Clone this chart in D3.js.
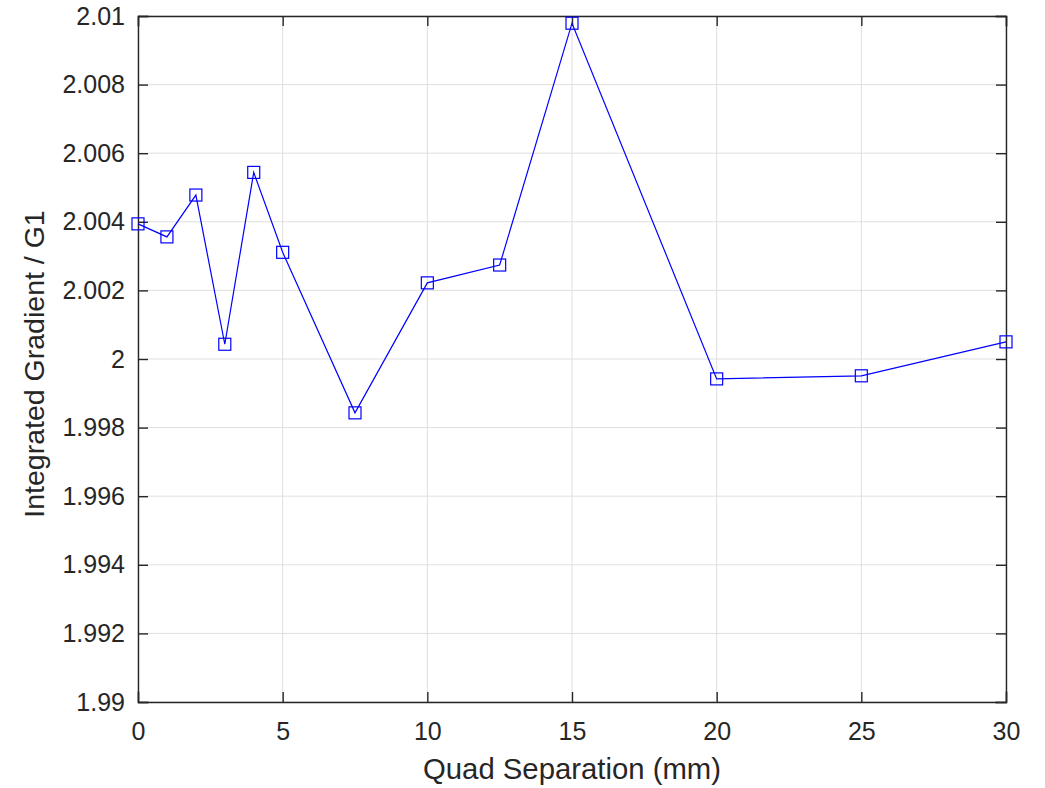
<!DOCTYPE html>
<html><head><meta charset="utf-8">
<script src="https://cdn.jsdelivr.net/npm/d3@7"></script>
<style>body{margin:0;background:#fff}svg{display:block}</style>
</head><body>
<script>
const separation = [0, 1, 2, 3, 4, 5, 7.5, 10, 12.5, 15, 20, 25, 30];
const gradient = [2.00394, 2.00356, 2.00478, 2.00043, 2.00544, 2.00311, 1.99843, 2.00222, 2.00274, 2.00979, 1.99942, 1.99951, 2.00050];
const xTicks = [0, 5, 10, 15, 20, 25, 30];
const yTicks = [1.99, 1.992, 1.994, 1.996, 1.998, 2, 2.002, 2.004, 2.006, 2.008, 2.01];
const yTickLabels = ["1.99","1.992","1.994","1.996","1.998","2","2.002","2.004","2.006","2.008","2.01"];

const W = 1045, H = 788;
const m = {left:138, right:W-1006, top:16, bottom:H-702};
const svg = d3.select("body").append("svg").attr("width",W).attr("height",H);
const x = d3.scaleLinear().domain([0,30]).range([m.left, W-m.right]);
const y = d3.scaleLinear().domain([1.99,2.01]).range([H-m.bottom, m.top]);
const font = "Liberation Sans, Arial, sans-serif";
const axisColor = "#262626";

// grid
const g = svg.append("g");
g.selectAll(".gx").data(xTicks).enter().append("line")
  .attr("x1",d=>x(d)).attr("x2",d=>x(d)).attr("y1",y(1.99)).attr("y2",y(2.01))
  .attr("stroke","#dfdfdf").attr("stroke-width",1);
g.selectAll(".gy").data(yTicks).enter().append("line")
  .attr("y1",d=>y(d)).attr("y2",d=>y(d)).attr("x1",x(0)).attr("x2",x(30))
  .attr("stroke","#dfdfdf").attr("stroke-width",1);

// axes
const ax = svg.append("g");
const xb = d3.axisBottom(x).tickValues(xTicks).tickSize(-10).tickPadding(20).tickFormat(d3.format("d"));
const xt = d3.axisTop(x).tickValues(xTicks).tickSize(-10).tickFormat("");
const yl = d3.axisLeft(y).tickValues(yTicks).tickSize(-10).tickPadding(13).tickFormat((d,i)=>yTickLabels[i]);
const yr = d3.axisRight(y).tickValues(yTicks).tickSize(-10).tickFormat("");
function style(sel){
  sel.selectAll("path,line").attr("stroke",axisColor).attr("stroke-width",1.4);
  sel.selectAll("text").attr("fill",axisColor).style("font-family",font).style("font-size","25px");
}
ax.append("g").attr("transform",`translate(0,${y(1.99)})`).call(xb).call(style);
ax.append("g").attr("transform",`translate(0,${y(2.01)})`).call(xt).call(style);
ax.append("g").attr("transform",`translate(${x(0)},0)`).call(yl).call(style);
ax.append("g").attr("transform",`translate(${x(30)},0)`).call(yr).call(style);
svg.selectAll(".domain").attr("stroke-linecap","square");

// line
const data = separation.map((s,i)=>({s, v:gradient[i]}));
svg.append("path").datum(data)
  .attr("d", d3.line().x(d=>x(d.s)).y(d=>y(d.v)))
  .attr("fill","none").attr("stroke","#0000ff").attr("stroke-width",1.2);
const ms = 12;
svg.selectAll(".mk").data(data).enter().append("rect")
  .attr("x",d=>x(d.s)-ms/2).attr("y",d=>y(d.v)-ms/2).attr("width",ms).attr("height",ms)
  .attr("fill","none").attr("stroke","#0000ff").attr("stroke-width",1.2);

// labels
svg.append("text").attr("x",(x(0)+x(30))/2).attr("y",779).attr("text-anchor","middle")
  .attr("fill",axisColor).style("font-family",font).style("font-size","29.3px")
  .text("Quad Separation (mm)");
svg.append("text").attr("transform",`translate(44,${(y(1.99)+y(2.01))/2 + 5}) rotate(-90)`)
  .attr("text-anchor","middle").attr("fill",axisColor).style("font-family",font).style("font-size","28.5px")
  .text("Integrated Gradient / G1");
</script>
</body></html>
